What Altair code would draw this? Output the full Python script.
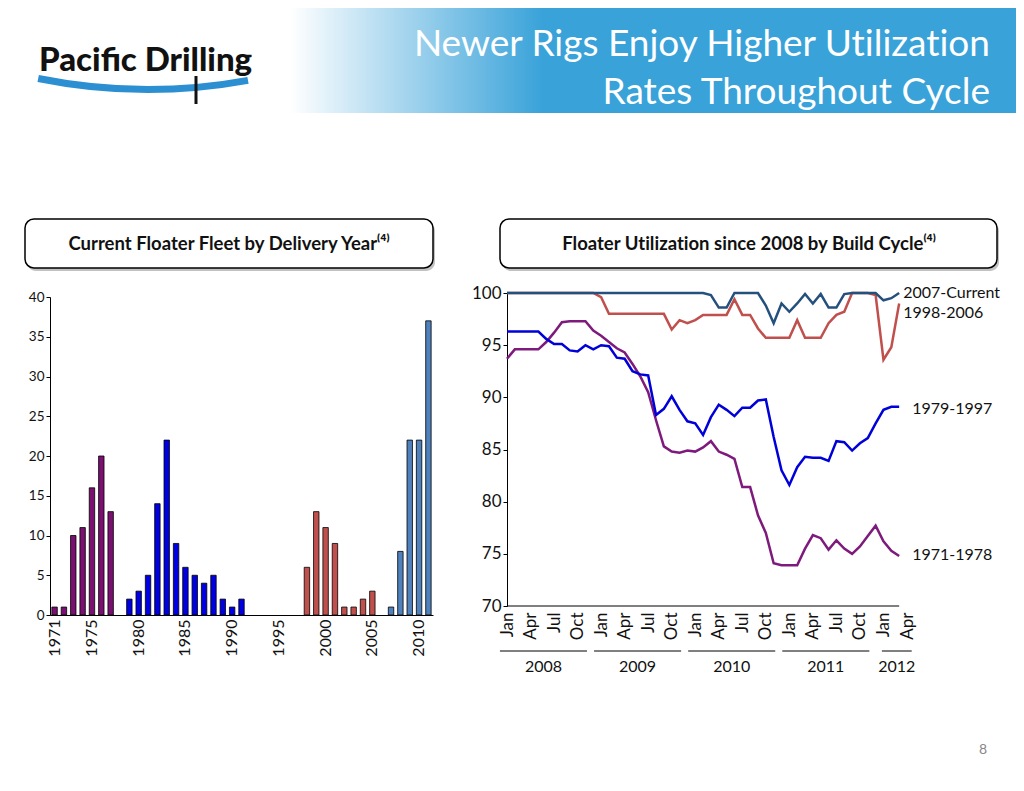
import altair as alt
import pandas as pd

# ---------------- data ----------------
years = list(range(1971, 2012))
fleet_counts = [1, 1, 10, 11, 16, 20, 13, 0,
                2, 3, 5, 14, 22, 9, 6, 5, 4, 5, 2, 1, 2, 0, 0, 0, 0, 0, 0,
                6, 13, 11, 9, 1, 1, 2, 3, 0,
                1, 8, 22, 22, 37]
year_ticks = ["1971", "1975", "1980", "1985", "1990", "1995", "2000", "2005", "2010"]

cycles = ["1971-1978", "1979-1997", "1998-2006", "2007-Current"]

month_index = list(range(51))  # Jan 2008 .. Mar 2012
util_2007_current = [100] * 26 + [99.8, 98.6, 98.6, 100, 100, 100, 100, 98.8, 97.1, 99.0,
                                  98.2, 99.0, 99.9, 99.0, 99.9, 98.6, 98.6, 99.9, 100, 100,
                                  100, 100, 99.3, 99.5, 100]
util_1998_2006 = [100] * 12 + [99.6, 98.0, 98.0, 98.0, 98.0, 98.0, 98.0, 98.0, 98.0, 96.5,
                               97.4, 97.1, 97.4, 97.9, 97.9, 97.9, 97.9, 99.4, 97.9, 97.9,
                               96.6, 95.7, 95.7, 95.7, 95.7, 97.4, 95.7, 95.7, 95.7, 97.1,
                               97.9, 98.2, 100, 100, 100, 99.8, 93.6, 94.8, 99.0]
util_1979_1997 = [96.3, 96.3, 96.3, 96.3, 96.3, 95.6, 95.1, 95.1, 94.5, 94.4,
                  95.0, 94.6, 95.0, 94.9, 93.8, 93.7, 92.5, 92.2, 92.1, 88.3,
                  88.9, 90.1, 88.8, 87.7, 87.5, 86.4, 88.1, 89.3, 88.8, 88.2,
                  89.0, 89.0, 89.7, 89.8, 86.2, 83.0, 81.6, 83.3, 84.3, 84.2,
                  84.2, 83.9, 85.8, 85.7, 84.9, 85.6, 86.1, 87.5, 88.8, 89.1, 89.1]
util_1971_1978 = [93.7, 94.6, 94.6, 94.6, 94.6, 95.3, 96.2, 97.2, 97.3, 97.3,
                  97.3, 96.4, 95.9, 95.3, 94.7, 94.3, 93.2, 92.0, 90.5, 87.8,
                  85.3, 84.8, 84.7, 84.9, 84.8, 85.2, 85.8, 84.8, 84.5, 84.1,
                  81.4, 81.4, 78.7, 77.0, 74.1, 73.9, 73.9, 73.9, 75.5, 76.8,
                  76.5, 75.4, 76.3, 75.5, 75.0, 75.7, 76.7, 77.7, 76.2, 75.3, 74.8]

month_tick_index = list(range(0, 52, 3))
plot_years = ["2008", "2009", "2010", "2011", "2012"]
year_span_start = [-0.9, 11.1, 23.1, 35.1, 47.8]
year_span_end = [10.2, 22.2, 34.2, 46.2, 51.6]

label_names_top = ["2007-Current", "1998-2006"]
label_values_top = [100, 98.1]
label_names_bottom = ["1979-1997", "1971-1978"]
label_values_bottom = [88.9, 74.9]

# ---------------- styles ----------------
FONT = "Lato"
bar_palette = ["#7A1070", "#0000E0", "#C0504D", "#4F81BD"]
line_palette = ["#7E1A7C", "#0000D8", "#C0504D", "#24507E"]
BLUE = "#38A2D9"

W, H = 1008, 760


def gx(p):
    return p - 8


def gy(p):
    return p - 8


def cycle_of(y):
    if y <= 1978:
        return cycles[0]
    if y <= 1997:
        return cycles[1]
    if y <= 2006:
        return cycles[2]
    return cycles[3]


bar_df = pd.DataFrame({
    "year": [str(y) for y in years],
    "count": fleet_counts,
    "cycle": [cycle_of(y) for y in years],
})

line_df = pd.concat([
    pd.DataFrame({"month": month_index, "util": util_1971_1978, "cycle": cycles[0]}),
    pd.DataFrame({"month": month_index, "util": util_1979_1997, "cycle": cycles[1]}),
    pd.DataFrame({"month": month_index, "util": util_1998_2006, "cycle": cycles[2]}),
    pd.DataFrame({"month": month_index, "util": util_2007_current, "cycle": cycles[3]}),
])

one = pd.DataFrame({"k": [0]})

# ---------------- bar panel ----------------
bars = alt.Chart(bar_df).transform_filter("datum.count > 0").mark_bar(
    stroke="black", strokeWidth=0.8).encode(
    x=alt.X("year:O",
            scale=alt.Scale(domain=[str(y) for y in years], range=[gx(50), gx(433)],
                            paddingInner=0.42, paddingOuter=0.2),
            axis=alt.Axis(orient="bottom", values=year_ticks, labelAngle=-90, ticks=False,
                          domainColor="black", labelFont=FONT, labelFontSize=16,
                          labelColor="#111", labelPadding=4,
                          offset=gy(615) - H, title=None, grid=False)),
    y=alt.Y("count:Q",
            scale=alt.Scale(domain=[0, 40], range=[gy(615), gy(297)], nice=False),
            axis=alt.Axis(orient="left", values=list(range(0, 41, 5)), offset=-gx(50),
                          tickSize=4, tickColor="black", domainColor="black", grid=False,
                          title=None, labelFont=FONT, labelFontSize=13.5, labelColor="#111")),
    color=alt.Color("cycle:N", scale=alt.Scale(domain=cycles, range=bar_palette), legend=None),
)
bar_panel = alt.layer(bars)

# ---------------- line panel ----------------
month_expr = "['Jan','Apr','Jul','Oct'][floor((datum.value % 12) / 3)]"
lines = alt.Chart(line_df).mark_line(strokeWidth=2.5).encode(
    x=alt.X("month:Q",
            scale=alt.Scale(domain=[0, 51], range=[gx(507), gx(907)], nice=False, zero=False),
            axis=alt.Axis(orient="bottom", values=month_tick_index, labelExpr=month_expr,
                          labelAngle=-90, ticks=False, domain=False, grid=False,
                          offset=gy(606) - H, labelFont=FONT, labelFontSize=17,
                          labelColor="#111", labelPadding=6, title=None)),
    y=alt.Y("util:Q",
            scale=alt.Scale(domain=[70, 100], range=[gy(606), gy(293)], nice=False, zero=False),
            axis=alt.Axis(orient="left", values=list(range(70, 101, 5)), offset=-gx(507),
                          tickSize=4, tickColor="black", domainColor="black", grid=False,
                          title=None, labelFont=FONT, labelFontSize=17, labelColor="#111")),
    color=alt.Color("cycle:N", scale=alt.Scale(domain=cycles, range=line_palette), legend=None),
    detail="cycle:N",
)

axis_span = pd.DataFrame({"month": [0], "month_end": [50], "util": [70]})
x_domain_rule = alt.Chart(axis_span).mark_rule(color="black", strokeWidth=1).encode(
    x="month:Q", x2="month_end:Q", y="util:Q")

year_df = pd.DataFrame({"yr": plot_years, "month": year_span_start, "month_end": year_span_end})
year_rules = alt.Chart(year_df).mark_rule(color="black", strokeWidth=1).encode(
    x="month:Q", x2="month_end:Q", y=alt.value(gy(651)))
year_text = alt.Chart(year_df).transform_calculate(
    mid="(datum.month + datum.month_end) / 2"
).mark_text(font=FONT, fontSize=16, color="#111", baseline="middle").encode(
    x="mid:Q", y=alt.value(gy(667)), text="yr:N")

lab_top = alt.Chart(pd.DataFrame({"name": label_names_top, "util": label_values_top,
                                  "month": [50, 50]})).mark_text(
    font=FONT, fontSize=16, align="left", baseline="middle", dx=4, color="#111"
).encode(x="month:Q", y="util:Q", text="name:N")
lab_bottom = alt.Chart(pd.DataFrame({"name": label_names_bottom, "util": label_values_bottom,
                                     "month": [50, 50]})).mark_text(
    font=FONT, fontSize=16, align="left", baseline="middle", dx=13, color="#111"
).encode(x="month:Q", y="util:Q", text="name:N")

line_panel = alt.layer(lines, x_domain_rule, year_rules, year_text, lab_top, lab_bottom)

# ---------------- decorations ----------------
base = alt.Chart(one)
banner = base.mark_rect(
    fill=alt.Gradient(gradient="linear",
                      stops=[alt.GradientStop(color="white", offset=0),
                             alt.GradientStop(color=BLUE, offset=0.35),
                             alt.GradientStop(color=BLUE, offset=1)],
                      x1=0, x2=1, y1=0, y2=0)
).encode(x=alt.value(gx(290)), x2=alt.value(W), y=alt.value(0), y2=alt.value(gy(113)))

title1 = base.mark_text(text="Newer Rigs Enjoy Higher Ut\u200cilizat\u200cion", font=FONT,
                        fontSize=37, color="white", align="right", baseline="middle").encode(
    x=alt.value(gx(990)), y=alt.value(gy(45)))
title2 = base.mark_text(text="Rates Throughout Cycle", font=FONT, fontSize=37,
                        color="white", align="right", baseline="middle").encode(
    x=alt.value(gx(990)), y=alt.value(gy(93)))

logo_text = base.mark_text(text="Paci\u200cfic Drilling", font=FONT, fontSize=33, fontWeight=900,
                           color="#111", align="left", baseline="alphabetic").encode(
    x=alt.value(gx(39)), y=alt.value(gy(71)))
swoosh = base.mark_arc(radius=559, radius2=552, theta=2.9606, theta2=3.3406,
                       color="#2B8FD2").encode(x=alt.value(gx(148)), y=alt.value(gy(-466)))
pipe = base.mark_rule(color="#111", strokeWidth=3).encode(
    x=alt.value(gx(196)), y=alt.value(gy(76)), y2=alt.value(gy(104)))


def header_box(x0, x1, text, cx):
    shadow = base.mark_rect(cornerRadius=9, fill="#9a9a9a", opacity=0.6).encode(
        x=alt.value(gx(x0) + 2), x2=alt.value(gx(x1) + 2),
        y=alt.value(gy(219) + 3), y2=alt.value(gy(268) + 3))
    box = base.mark_rect(cornerRadius=9, fill="white", stroke="black", strokeWidth=1.5).encode(
        x=alt.value(gx(x0)), x2=alt.value(gx(x1)), y=alt.value(gy(219)), y2=alt.value(gy(268)))
    txt = base.mark_text(text=text, font=FONT, fontSize=18.5, fontWeight="bold", color="#111",
                         align="center", baseline="middle").encode(
        x=alt.value(gx(cx)), y=alt.value(gy(244)))
    return [shadow, box, txt]


box_left = header_box(25, 433, "Current Floater Fleet by Delivery Year\u207d\u2074\u207e", 229)
box_right = header_box(500, 997,
                       "Floater Ut\u200cilizat\u200cion since 2008 by Build Cycle\u207d\u2074\u207e", 749)

page_no = base.mark_text(text="8", font=FONT, fontSize=14, color="#888", align="center",
                         baseline="middle").encode(x=alt.value(gx(983)), y=alt.value(gy(750)))

chart = alt.layer(
    banner, title1, title2, swoosh, logo_text, pipe,
    *box_left, *box_right,
    bar_panel, line_panel, page_no,
).resolve_scale(x="independent", y="independent", color="independent").properties(
    width=W, height=H, autosize=alt.AutoSizeParams(type="none"), padding=0,
    background="white",
).configure_view(stroke=None)

chart.save("out.html", embed_options={"renderer": "svg", "actions": False})
